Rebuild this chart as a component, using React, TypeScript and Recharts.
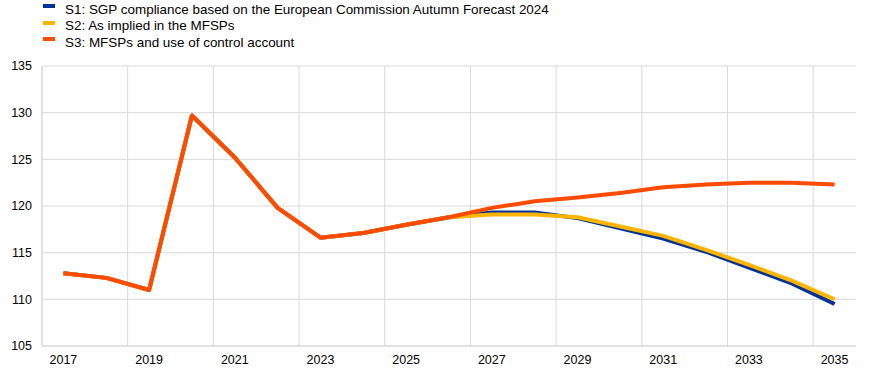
import React from 'react';
import {LineChart, Line, XAxis, YAxis, CartesianGrid} from 'recharts';

const years = [2017, 2018, 2019, 2020, 2021, 2022, 2023, 2024, 2025, 2026, 2027, 2028, 2029, 2030, 2031, 2032, 2033, 2034, 2035];

const s1 = [112.8, 112.3, 111.0, 129.7, 125.2, 119.8, 116.6, 117.1, 118.0, 118.8, 119.3, 119.3, 118.7, 117.6, 116.5, 115.1, 113.4, 111.7, 109.5];
const s2 = [112.8, 112.3, 111.0, 129.7, 125.2, 119.8, 116.6, 117.1, 118.0, 118.8, 119.1, 119.1, 118.8, 117.8, 116.8, 115.3, 113.7, 112.0, 110.0];
const s3 = [112.8, 112.3, 111.0, 129.7, 125.2, 119.8, 116.6, 117.1, 118.0, 118.8, 119.8, 120.5, 120.9, 121.4, 122.0, 122.3, 122.5, 122.5, 122.3];

const seriesNames = [
    'S1: SGP compliance based on the European Commission Autumn Forecast 2024',
    'S2: As implied in the MFSPs',
    'S3: MFSPs and use of control account',
];
const seriesColors = ['#003299', '#FFB400', '#FF4B00'];

const xDomain = [2016.5, 2035.5];
const xTicks = [2017, 2019, 2021, 2023, 2025, 2027, 2029, 2031, 2033, 2035];
const gridYears = [2016.5, 2018.5, 2020.5, 2022.5, 2024.5, 2026.5, 2028.5, 2030.5, 2032.5, 2034.5];
const yTicks = [105, 110, 115, 120, 125, 130, 135];

const data = years.map((year, i) => ({year, s1: s1[i], s2: s2[i], s3: s3[i]}));

const font = '"Liberation Sans", Arial, sans-serif';
const gridColor = '#d9d9d9';

// vertical grid sits between categories, every second year
const gridX = (props: any) => {
    const scale = props?.xAxis?.scale;
    if (typeof scale === 'function') return gridYears.map(v => scale(v));
    if (scale && typeof scale.map === 'function') return gridYears.map(v => scale.map(v));
    const {left, width} = props.offset;
    return gridYears.map(v => left + (v - xDomain[0]) / (xDomain[1] - xDomain[0]) * width);
};

const App = () => {
    return (
        <div style={{position: 'absolute', left: 0, top: 0, width: 874, height: 373, background: '#fff', fontFamily: font}}>
            <div style={{position: 'absolute', left: 43, top: 1, fontSize: 13.45, color: '#000'}}>
                {seriesNames.map((name, i) => (
                    <div key={name} style={{display: 'flex', alignItems: 'center', height: 16.5}}>
                        <span style={{display: 'inline-block', width: 12, height: 4, background: seriesColors[i], marginRight: 10, marginTop: -6}}/>
                        <span>{name}</span>
                    </div>
                ))}
            </div>
            <LineChart width={874} height={373} data={data} margin={{top: 66, right: 18, bottom: 0, left: 0}}>
                <CartesianGrid stroke={gridColor} strokeWidth={1} verticalCoordinatesGenerator={gridX}/>
                <XAxis
                    type="number"
                    dataKey="year"
                    domain={xDomain}
                    ticks={xTicks}
                    height={27}
                    axisLine={{stroke: gridColor}}
                    tickLine={false}
                    tickSize={6}
                    tickMargin={3}
                    tick={{fill: '#000', fontSize: 12.5, fontFamily: font}}
                    interval={0}
                />
                <YAxis
                    domain={[105, 135]}
                    ticks={yTicks}
                    width={42}
                    axisLine={{stroke: gridColor}}
                    tickLine={false}
                    tickSize={6}
                    tickMargin={4}
                    tick={{fill: '#000', fontSize: 12.5, fontFamily: font}}
                    interval={0}
                />
                <Line dataKey="s1" stroke={seriesColors[0]} strokeWidth={4} dot={false} isAnimationActive={false} strokeLinejoin="round"/>
                <Line dataKey="s2" stroke={seriesColors[1]} strokeWidth={4} dot={false} isAnimationActive={false} strokeLinejoin="round"/>
                <Line dataKey="s3" stroke={seriesColors[2]} strokeWidth={4} dot={false} isAnimationActive={false} strokeLinejoin="round"/>
            </LineChart>
        </div>
    );
};

export default App;
